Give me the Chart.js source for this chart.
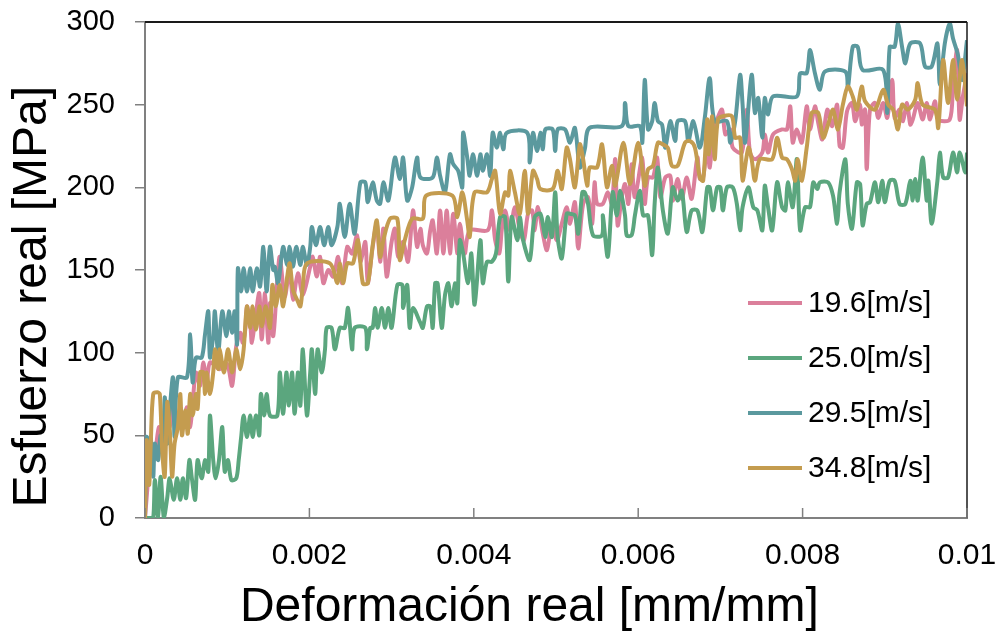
<!DOCTYPE html>
<html>
<head>
<meta charset="utf-8">
<script src="https://cdn.jsdelivr.net/npm/chart.js@4.4.1/dist/chart.umd.min.js"></script>
<style>
	body { margin: 0; background: #fff; }
</style>
</head>
<body>
<canvas id="stressChart" width="999" height="631"></canvas>
<script>
// deformación en 10^-3 mm/mm, esfuerzo en MPa
const labels = ["19.6[m/s]", "25.0[m/s]", "29.5[m/s]", "34.8[m/s]"];
const colors = ["#DB7F9B", "#5BA67E", "#5B999E", "#C49C4F"];

const strain196 = [0,0.04,0.07,0.12,0.17,0.22,0.27,0.30,0.34,0.39,0.43,0.47,0.51,0.55,0.58,0.62,0.67,0.71,0.75,0.79,
	0.91,0.97,1.01,1.06,1.11,1.16,1.19,1.22,1.24,1.28,1.30,1.34,1.39,1.42,1.46,1.50,1.52,1.56,1.61,1.64,
	1.70,1.76,1.80,1.86,1.92,2.01,2.04,2.09,2.13,2.17,2.23,2.29,2.35,2.40,2.46,2.52,2.58,2.62,2.68,2.71,
	2.77,2.82,2.86,2.90,2.94,3.00,3.04,3.08,3.14,3.20,3.26,3.31,3.35,3.38,3.43,3.47,3.50,3.55,3.59,3.63,
	3.67,3.71,3.75,3.80,3.83,3.89,3.95,4.17,4.22,4.26,4.31,4.34,4.38,4.44,4.50,4.56,4.61,4.66,4.71,4.74,
	4.78,4.84,4.89,4.95,5.01,5.07,5.13,5.17,5.23,5.27,5.33,5.39,5.44,5.47,5.50,5.57,5.63,5.68,5.72,5.75,
	5.80,5.84,5.88,5.92,5.96,6.05,6.08,6.12,6.18,6.23,6.27,6.33,6.39,6.42,6.48,6.53,6.59,6.65,6.72,6.75,
	6.79,6.84,6.87,6.91,6.96,7.02,7.06,7.12,7.15,7.26,7.32,7.36,7.42,7.51,7.54,7.58,7.64,7.75,7.81,7.85,
	7.88,7.93,7.99,8.05,8.09,8.15,8.19,8.24,8.30,8.36,8.42,8.45,8.49,8.54,8.60,8.64,8.70,8.72,8.76,8.78,
	8.82,8.88,8.92,8.98,9.03,9.09,9.12,9.18,9.22,9.27,9.31,9.34,9.40,9.46,9.51,9.55,9.61,9.65,9.79,9.83,
	9.88,9.91,9.95,10.00];
const stress196 = [0,25,45,40,55,48,60,55,67,55,67,56,67,55,70,88,80,94,80,94,
	90,94,92,80,104,112,106,114,128,118,106,120,136,108,136,106,130,110,144,158,
	134,150,132,148,135,152,158,146,158,142,150,146,158,142,164,160,171,155,167,142,
	164,178,155,175,146,167,175,158,167,155,186,164,175,165,160,174,180,160,186,160,
	186,160,184,160,178,160,174,174,186,168,160,174,186,174,188,174,168,184,186,174,
	188,172,162,178,168,178,188,178,191,163,190,194,178,203,190,190,197,190,217,177,
	194,202,190,214,194,218,190,206,206,218,194,206,207,192,205,193,206,193,218,205,
	206,225,212,232,241,247,232,235,224,221,247,221,217,221,232,221,232,235,235,249,
	227,235,227,249,235,249,239,229,247,237,250,225,224,246,251,240,250,238,247,211,
	247,251,242,251,242,265,242,247,240,251,238,241,251,241,251,241,252,241,241,262,
	283,241,255,269];

const strain250 = [0,0.06,0.10,0.12,0.16,0.19,0.23,0.27,0.30,0.35,0.39,0.43,0.46,0.50,0.54,0.57,0.61,0.64,0.69,0.73,
	0.77,0.79,0.83,0.86,0.90,0.94,0.97,1.01,1.05,1.11,1.14,1.17,1.20,1.24,1.28,1.31,1.35,1.39,1.41,1.45,
	1.48,1.52,1.61,1.64,1.68,1.72,1.75,1.79,1.82,1.86,1.89,1.92,1.97,2.01,2.03,2.07,2.10,2.15,2.19,2.21,
	2.27,2.31,2.37,2.43,2.47,2.52,2.55,2.68,2.70,2.74,2.77,2.80,2.83,2.88,2.92,2.96,3.00,3.07,3.13,3.14,
	3.19,3.22,3.26,3.35,3.38,3.43,3.47,3.50,3.53,3.56,3.61,3.65,3.69,3.73,3.77,3.80,3.83,3.87,3.93,3.97,
	4.01,4.08,4.11,4.16,4.22,4.27,4.32,4.38,4.42,4.46,4.53,4.56,4.60,4.68,4.74,4.81,4.87,4.90,4.95,4.99,
	5.02,5.07,5.13,5.17,5.23,5.27,5.32,5.35,5.39,5.45,5.56,5.57,5.63,5.69,5.74,5.78,5.84,5.86,5.92,5.96,
	6.02,6.06,6.12,6.17,6.20,6.24,6.30,6.36,6.42,6.48,6.53,6.59,6.65,6.72,6.78,6.84,6.87,6.91,6.96,7.00,
	7.03,7.08,7.15,7.20,7.24,7.27,7.34,7.40,7.45,7.51,7.54,7.58,7.63,7.69,7.75,7.79,7.82,7.88,7.93,7.97,
	8.03,8.09,8.13,8.18,8.21,8.31,8.37,8.42,8.45,8.52,8.55,8.60,8.66,8.70,8.73,8.78,8.82,8.88,8.92,8.97,
	9.00,9.06,9.12,9.18,9.25,9.31,9.34,9.37,9.40,9.46,9.51,9.53,9.57,9.64,9.67,9.71,9.77,9.83,9.88,9.91,
	9.98,10.00];
const stress250 = [0,0,0,23,0,25,0,12,24,11,24,11,24,12,35,24,11,35,24,35,
	28,62,35,24,35,55,28,35,23,24,35,49,62,49,62,49,62,50,75,62,
	75,62,62,88,63,88,68,88,63,88,68,102,62,88,102,75,102,88,102,115,
	115,102,115,115,127,102,115,115,102,115,115,127,115,127,115,127,115,141,141,127,
	141,115,127,118,115,128,128,115,142,142,115,135,142,128,142,130,168,160,142,160,
	129,168,142,155,155,160,182,182,143,182,168,182,168,156,182,184,170,182,170,197,
	170,157,184,184,183,172,197,197,190,171,171,183,158,197,183,198,183,171,171,183,
	198,183,183,159,190,212,186,172,200,192,198,173,186,186,173,200,200,186,200,200,
	186,200,200,190,174,188,200,188,186,174,201,188,174,203,188,186,203,188,217,174,
	188,188,203,199,203,203,195,178,197,217,190,175,203,202,177,190,191,203,191,204,
	191,204,204,190,190,204,192,205,192,218,192,204,178,204,221,206,206,221,209,221,
	209,221];

const strain295 = [0,0.02,0.05,0.07,0.10,0.12,0.16,0.19,0.22,0.24,0.27,0.30,0.34,0.36,0.40,0.51,0.55,0.58,0.62,0.69,
	0.73,0.77,0.79,0.83,0.85,0.89,0.94,0.99,1.02,1.06,1.09,1.12,1.13,1.17,1.20,1.24,1.28,1.31,1.36,1.40,
	1.44,1.48,1.52,1.56,1.58,1.62,1.68,1.73,1.76,1.80,1.84,1.89,1.92,1.97,2.01,2.03,2.08,2.13,2.18,2.23,
	2.27,2.34,2.37,2.43,2.49,2.55,2.62,2.68,2.71,2.77,2.82,2.86,2.90,2.96,3.04,3.10,3.14,3.19,3.25,3.31,
	3.35,3.50,3.55,3.59,3.65,3.71,3.75,3.81,3.86,3.87,3.92,3.95,3.99,4.04,4.08,4.11,4.16,4.20,4.23,4.28,
	4.32,4.36,4.40,4.65,4.68,4.72,4.77,4.81,4.84,4.87,4.96,4.99,5.02,5.11,5.17,5.23,5.29,5.35,5.41,5.80,
	5.84,5.88,6.02,6.05,6.08,6.12,6.17,6.20,6.24,6.29,6.33,6.39,6.45,6.48,6.57,6.61,6.67,6.75,6.81,6.87,
	6.93,7.08,7.12,7.18,7.24,7.27,7.30,7.38,7.42,7.46,7.51,7.54,7.58,7.64,7.93,7.97,8.05,8.09,8.15,8.21,
	8.27,8.52,8.55,8.61,8.67,8.73,8.98,9.03,9.06,9.12,9.16,9.21,9.25,9.31,9.43,9.49,9.57,9.64,9.67,9.73,
	9.79,9.83,9.89,9.94,10.00];
const stress295 = [0,49,30,49,25,45,35,50,40,73,45,65,85,49,85,85,111,82,97,97,
	111,125,97,110,125,100,125,110,125,112,125,105,151,137,151,137,151,137,151,140,
	164,137,164,150,152,142,164,153,164,152,164,153,164,153,164,176,165,176,165,176,
	165,176,190,170,190,172,203,203,191,203,192,190,203,192,218,205,218,192,200,218,
	206,206,218,207,197,220,214,210,200,233,218,207,220,207,220,210,220,207,233,224,
	233,223,233,233,215,233,222,233,223,235,235,222,235,235,227,236,212,223,236,237,
	251,237,237,227,265,235,240,251,240,238,224,240,228,240,240,228,240,224,242,266,
	240,240,227,240,268,250,227,268,245,254,230,254,244,255,255,269,269,283,269,259,
	270,270,260,285,285,271,271,245,285,285,299,285,275,287,287,273,273,287,262,287,
	299,290,280,265,289];

const strain348 = [0,0.02,0.05,0.07,0.10,0.15,0.18,0.21,0.24,0.27,0.30,0.33,0.36,0.40,0.43,0.45,0.49,0.52,0.55,0.58,
	0.62,0.64,0.67,0.71,0.73,0.75,0.79,0.83,0.85,0.89,0.91,0.96,1.01,1.06,1.11,1.16,1.20,1.24,1.28,1.31,
	1.35,1.39,1.42,1.47,1.52,1.55,1.59,1.64,1.68,1.73,1.76,1.80,1.85,1.89,1.92,1.97,2.25,2.34,2.37,2.41,
	2.46,2.53,2.59,2.65,2.71,2.77,2.82,2.86,2.90,2.98,3.07,3.10,3.16,3.25,3.38,3.42,3.74,3.80,3.86,3.92,
	3.95,4.01,4.16,4.22,4.26,4.32,4.38,4.42,4.44,4.50,4.56,4.62,4.66,4.72,4.77,4.81,4.96,5.02,5.07,5.13,
	5.17,5.23,5.29,5.33,5.38,5.41,5.50,5.56,5.62,5.68,5.72,5.82,5.90,6.00,6.08,6.12,6.18,6.24,6.30,6.36,
	6.41,6.48,6.57,6.63,6.69,6.75,6.79,6.84,6.86,6.90,6.93,6.97,7.03,7.14,7.18,7.24,7.27,7.34,7.38,7.42,
	7.48,7.63,7.69,7.75,7.81,7.87,7.91,7.94,7.99,8.05,8.11,8.19,8.25,8.31,8.37,8.43,8.49,8.55,8.61,8.66,
	8.72,8.76,8.88,8.98,9.04,9.10,9.16,9.21,9.28,9.37,9.40,9.46,9.61,9.65,9.71,9.77,9.83,9.88,9.94,10.00];
const stress348 = [0,47,20,45,75,76,75,40,25,70,55,25,45,55,75,50,65,51,75,62,
	75,66,88,88,75,88,75,88,102,90,102,88,102,88,102,90,102,128,115,128,
	114,128,116,128,115,141,128,141,128,146,154,138,132,128,140,154,154,142,154,142,
	154,154,168,142,142,165,180,158,168,181,181,156,168,181,181,195,195,182,197,180,
	170,197,197,205,210,184,197,195,210,197,184,210,184,210,205,199,199,210,199,224,
	217,200,226,217,201,212,212,226,200,213,201,227,202,227,201,211,213,227,226,224,
	213,213,227,228,224,206,204,241,220,243,217,241,243,243,230,230,204,224,217,204,
	217,217,230,218,217,211,204,217,204,224,245,245,230,238,247,235,250,261,255,247,
	261,252,247,259,250,247,235,250,247,253,263,250,247,236,277,251,277,253,277,249];

const strainSeries = [strain196, strain250, strain295, strain348];
const stressSeries = [stress196, stress250, stress295, stress348];

const fontFamily = "'Liberation Sans', Arial, sans-serif";

// bordes superior/derecho, marcas internas del eje x y leyenda dentro del gráfico
const framePlugin = {
	id: 'frame',
	afterDraw(chart) {
		const ctx = chart.ctx;
		const area = chart.chartArea;
		ctx.save();
		ctx.strokeStyle = '#1a1a1a';
		ctx.lineWidth = 2;
		ctx.beginPath();
		ctx.moveTo(area.left, area.top);
		ctx.lineTo(area.right, area.top);
		ctx.stroke();
		ctx.lineWidth = 1.5;
		ctx.beginPath();
		ctx.moveTo(area.right, area.top);
		ctx.lineTo(area.right, area.bottom);
		ctx.stroke();

		const xScale = chart.scales.x;
		ctx.strokeStyle = '#808080';
		ctx.lineWidth = 1.5;
		xScale.ticks.forEach(t => {
			const px = xScale.getPixelForValue(t.value);
			ctx.beginPath();
			ctx.moveTo(px, area.bottom);
			ctx.lineTo(px, area.bottom - 10);
			ctx.stroke();
		});

		ctx.font = '30px ' + fontFamily;
		ctx.textBaseline = 'middle';
		ctx.fillStyle = '#000';
		labels.forEach((label, i) => {
			const y = area.bottom - 215 + i * 55;
			const x0 = area.right - 219;
			ctx.strokeStyle = colors[i];
			ctx.lineWidth = 4;
			ctx.beginPath();
			ctx.moveTo(x0, y);
			ctx.lineTo(x0 + 54, y);
			ctx.stroke();
			ctx.fillText(label, x0 + 60, y + 1);
		});
		ctx.restore();
	}
};

const datasets = labels.map((label, i) => ({
	label: label,
	data: strainSeries[i].map((s, j) => ({ x: s / 1000, y: stressSeries[i][j] })),
	borderColor: colors[i],
	backgroundColor: colors[i],
	borderWidth: 4,
	pointRadius: 0,
	tension: 0.3,
	fill: false,
	order: labels.length - i
}));

new Chart(document.getElementById('stressChart').getContext('2d'), {
	type: 'line',
	data: { datasets: datasets },
	options: {
		responsive: false,
		animation: false,
		devicePixelRatio: 1,
		layout: { padding: { top: 22, right: 32, left: 0, bottom: 0 } },
		plugins: {
			legend: { display: false },
			tooltip: { enabled: false }
		},
		scales: {
			x: {
				type: 'linear',
				min: 0,
				max: 0.01,
				afterFit: scale => {
					scale.height = 113;
					scale.paddingLeft = 0;
					scale.paddingRight = 0;
				},
				ticks: {
					stepSize: 0.002,
					color: '#000',
					padding: 12,
					font: { family: fontFamily, size: 30 },
					callback: v => String(+v.toFixed(3))
				},
				grid: { display: false },
				border: { display: true, color: '#808080', width: 2 },
				title: {
					display: true,
					text: 'Deformación real [mm/mm]    ',
					color: '#000',
					font: { family: fontFamily, size: 48 },
					padding: { top: 0, bottom: -6 }
				}
			},
			y: {
				min: 0,
				max: 300,
				afterFit: scale => {
					scale.width = 145;
					scale.paddingTop = 0;
					scale.paddingBottom = 0;
				},
				ticks: {
					stepSize: 50,
					color: '#000',
					padding: 20,
					font: { family: fontFamily, size: 29 }
				},
				grid: {
					drawOnChartArea: false,
					drawTicks: true,
					tickLength: 10,
					color: '#808080',
					lineWidth: 1.5
				},
				border: { display: true, color: '#808080', width: 2 },
				title: {
					display: true,
					text: 'Esfuerzo real [MPa]    ',
					color: '#000',
					font: { family: fontFamily, size: 48 },
					padding: { top: 4, bottom: 0 }
				}
			}
		}
	},
	plugins: [framePlugin]
});
</script>
</body>
</html>
